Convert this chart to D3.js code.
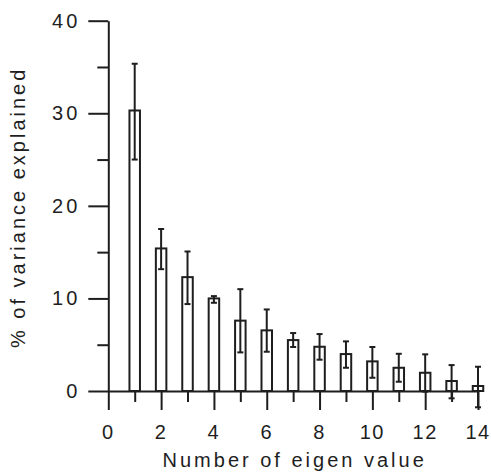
<!DOCTYPE html>
<html>
<head>
<meta charset="utf-8">
<script src="https://cdn.jsdelivr.net/npm/d3@7"></script>
<style>
  html, body { margin: 0; padding: 0; background: #fff; }
  svg { display: block; }
  text { font-family: "Liberation Sans", Arial, sans-serif; }
</style>
</head>
<body>
<script>
// ---- data ----
const eigenNumbers = [1, 2, 3, 4, 5, 6, 7, 8, 9, 10, 11, 12, 13, 14];
const variancePct  = [30.3, 15.4, 12.3, 10.0, 7.6, 6.55, 5.5, 4.78, 3.99, 3.2, 2.51, 1.97, 1.08, 0.54];
const errorUpper   = [35.35, 17.5, 15.07, 10.25, 11.0, 8.81, 6.26, 6.15, 5.36, 4.75, 4.02, 3.96, 2.8, 2.62];
const errorLower   = [25.0, 13.16, 9.39, 9.53, 4.17, 4.24, 4.75, 3.38, 2.51, 1.43, 1.0, -0.07, -0.79, -1.76];
const xMajorTicks  = [0, 2, 4, 6, 8, 10, 12, 14];
const xMinorTicks  = [1, 3, 5, 7, 9, 11, 13];
const yMajorTicks  = [0, 10, 20, 30, 40];
const yMinorTicks  = [5, 15, 25, 35];
const xTitle = "Number of eigen value";
const yTitle = "% of variance explained";

const W = 491, H = 472;
const ink = "#1e1e1e";
const svg = d3.select("body").append("svg").attr("width", W).attr("height", H);

const x = d3.scaleLinear().domain([0, 14]).range([108.3, 478]);
const y = d3.scaleLinear().domain([0, 40]).range([391, 20.7]);
const barW = 10.5;

// bars
svg.append("g").selectAll("rect").data(eigenNumbers).join("rect")
  .attr("x", d => x(d) - barW / 2)
  .attr("y", (d, i) => y(variancePct[i]))
  .attr("width", barW)
  .attr("height", (d, i) => y(0) - y(variancePct[i]))
  .attr("fill", "#fff")
  .attr("stroke", ink)
  .attr("stroke-width", 2);

// error bars
const eg = svg.append("g").attr("stroke", ink).attr("stroke-width", 2);
eg.selectAll("line.v").data(eigenNumbers).join("line").attr("class", "v")
  .attr("x1", d => x(d)).attr("x2", d => x(d))
  .attr("y1", (d, i) => y(errorUpper[i])).attr("y2", (d, i) => y(errorLower[i]));
eg.selectAll("line.cu").data(eigenNumbers).join("line").attr("class", "cu")
  .attr("x1", d => x(d) - 3).attr("x2", d => x(d) + 3)
  .attr("y1", (d, i) => y(errorUpper[i])).attr("y2", (d, i) => y(errorUpper[i]));
eg.selectAll("line.cl").data(eigenNumbers).join("line").attr("class", "cl")
  .attr("x1", d => x(d) - 3).attr("x2", d => x(d) + 3)
  .attr("y1", (d, i) => y(errorLower[i])).attr("y2", (d, i) => y(errorLower[i]));

function styleAxis(g, ls) {
  g.selectAll("path.domain").attr("stroke", ink).attr("stroke-width", 2);
  g.selectAll(".tick line").attr("stroke", ink).attr("stroke-width", 2);
  g.selectAll("text").attr("fill", ink).attr("font-size", 20)
    .style("letter-spacing", ls + "px")
    .style("font-family", "'Liberation Sans', Arial, sans-serif");
}

// x axis
const gxMinor = svg.append("g").attr("transform", `translate(0,${y(0)})`)
  .call(d3.axisBottom(x).tickValues(xMinorTicks).tickSize(11).tickSizeOuter(0).tickFormat(""));
gxMinor.select("path.domain").remove();
styleAxis(gxMinor, 1);
const gx = svg.append("g").attr("transform", `translate(0,${y(0)})`)
  .call(d3.axisBottom(x).tickValues(xMajorTicks).tickSize(19).tickSizeOuter(0).tickPadding(15).tickFormat(d3.format("d")));
styleAxis(gx, 1.5);
gx.selectAll("text").attr("dx", -0.5);

// y axis
const gyMinor = svg.append("g").attr("transform", `translate(${x(0)},0)`)
  .call(d3.axisLeft(y).tickValues(yMinorTicks).tickSize(11).tickSizeOuter(0).tickFormat(""));
gyMinor.select("path.domain").remove();
styleAxis(gyMinor, 3);
const gy = svg.append("g").attr("transform", `translate(${x(0)},0)`)
  .call(d3.axisLeft(y).tickValues(yMajorTicks).tickSize(20).tickSizeOuter(0).tickPadding(8).tickFormat(d3.format("d")));
styleAxis(gy, 3);

// titles
svg.append("text")
  .attr("x", (x(0) + x(14)) / 2 + 1.5).attr("y", 467)
  .attr("text-anchor", "middle").attr("font-size", 20).attr("fill", ink)
  .style("letter-spacing", "3px")
  .text(xTitle);
svg.append("text")
  .attr("transform", `translate(25,${(y(0) + y(40)) / 2 + 1.5}) rotate(-90)`)
  .attr("text-anchor", "middle").attr("font-size", 20).attr("fill", ink)
  .style("letter-spacing", "3px")
  .text(yTitle);
</script>
</body>
</html>
